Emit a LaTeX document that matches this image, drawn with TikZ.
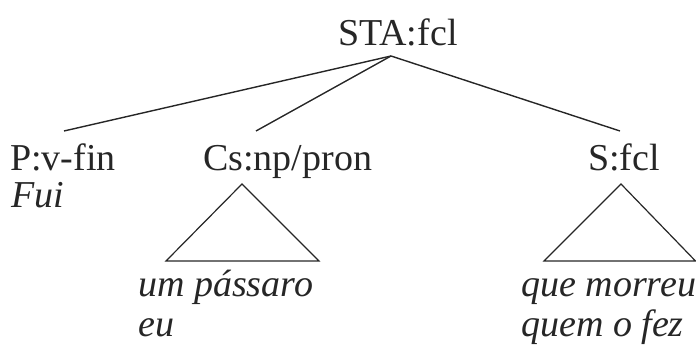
\documentclass[tikz,border=0pt]{standalone}
\usepackage{fontspec}
\setmainfont{Liberation Serif}
\tikzset{
  lbl/.style={inner sep=0pt, anchor=base west, font=\fontsize{38}{44}\selectfont, text=black!85},
  wrd/.style={lbl, font=\fontsize{38}{44}\selectfont\itshape},
  edge/.style={draw=black!85, line width=1.4pt},
  tri/.style={draw=black!85, line width=1.2pt, line join=miter}
}
\begin{document}
\begin{tikzpicture}[x=1pt,y=-1pt]
\useasboundingbox (0,0) rectangle (696,347);
\node[lbl] (root) at (338,46) {STA:fcl};
\coordinate (apex) at (391,56);
\node[lbl] (p) at (10,171) {P:v-fin};
\node[wrd] (fui) at (11,208) {Fui};
\node[lbl] (cs) at (203,171) {Cs:np/pron};
\node[lbl] (s) at (588,171) {S:fcl};
\coordinate (pe) at (64,131);
\coordinate (cse) at (256,131);
\coordinate (se) at (620,131);
\draw[edge] (apex) -- (pe);
\draw[edge] (apex) -- (cse);
\draw[edge] (apex) -- (se);
\coordinate (t1a) at (242,184);
\coordinate (t1l) at (166,261);
\coordinate (t1r) at (319,261);
\draw[tri] (t1a) -- (t1l) -- (t1r) -- cycle;
\coordinate (t2a) at (621,184);
\coordinate (t2l) at (544,261);
\coordinate (t2r) at (695.5,261);
\draw[tri] (t2a) -- (t2l) -- (t2r) -- cycle;
\node[wrd] (w1) at (138,297) {um pássaro};
\node[wrd] (w2) at (138,336) {eu};
\node[wrd] (w3) at (521,297) {que morreu};
\node[wrd] (w4) at (521,336) {quem o fez};
\end{tikzpicture}
\end{document}
